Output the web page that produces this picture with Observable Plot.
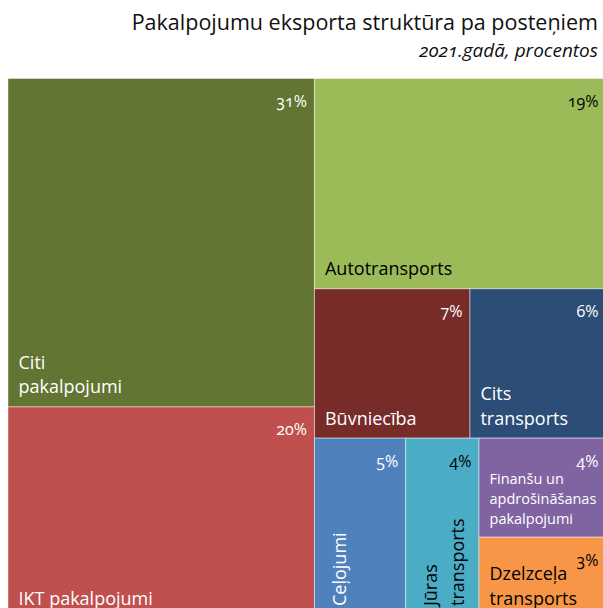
<!DOCTYPE html>
<html>
<head>
<meta charset="utf-8">
<script src="https://cdn.jsdelivr.net/npm/d3@7"></script>
<script src="https://cdn.jsdelivr.net/npm/@observablehq/plot@0.6"></script>
<style>
html, body { margin: 0; padding: 0; background: #fff; width: 603px; height: 608px; overflow: hidden; }
body { font-family: "Open Sans", sans-serif; font-variant-numeric: oldstyle-nums; }
#head { position: relative; height: 78px; }
#title { position: absolute; right: 5px; top: 11px; font-size: 21.5px; line-height: 21.5px; color: #111; white-space: nowrap; }
#subtitle { position: absolute; right: 5px; top: 41px; font-size: 19px; line-height: 19px; font-style: italic; color: #111; white-space: nowrap; }
#chart svg { display: block; overflow: hidden; }
</style>
</head>
<body>
<div id="head">
  <div id="title">Pakalpojumu eksporta struktūra pa posteņiem</div>
  <div id="subtitle">2021.gadā, procentos</div>
</div>
<div id="chart"></div>
<script>
// ---- data ----
const categories = [
  "Citi pakalpojumi", "IKT pakalpojumi", "Autotransports", "Būvniecība",
  "Cits transports", "Ceļojumi", "Jūras transports",
  "Finanšu un apdrošināšanas pakalpojumi", "Dzelzceļa transports"
];
const labelText = [
  "Citi\npakalpojumi", "IKT pakalpojumi", "Autotransports", "Būvniecība",
  "Cits\ntransports", "Ceļojumi", "Jūras\ntransports",
  "Finanšu un\napdrošināšanas\npakalpojumi", "Dzelzceļa\ntransports"
];
const values = [31.2, 20.1, 19.0, 7.2, 6.3, 5.1, 4.1, 3.9, 3.2];
// grouping of the tiles (indexes into categories)
const nesting = [[0, 1], [2, [3, 4], [5, 6, [7, 8]]]];
const palette = ["#627532", "#C0504D", "#9BBB59", "#772C2A", "#2C4D75", "#4F81BD", "#4BACC6", "#8064A2", "#F79646"];

// ---- layout ----
const X0 = 8, X1 = 606, Y0 = 0.5, Y1 = 540.5;
function build(n) { return Array.isArray(n) ? {children: n.map(build)} : {index: n}; }
const root = d3.hierarchy(build(nesting)).sum(d => d.index === undefined ? 0 : values[d.index]);
d3.treemap().tile(d3.treemapSliceDice).size([1, 1]).round(false)(root);

function luminance(hex) {
  const c = d3.rgb(hex);
  const f = v => { v /= 255; return v <= 0.03928 ? v / 12.92 : Math.pow((v + 0.055) / 1.055, 2.4); };
  return 0.2126 * f(c.r) + 0.7152 * f(c.g) + 0.0722 * f(c.b);
}

const tiles = root.leaves().map(n => {
  const i = n.data.index;
  const wpx = (n.x1 - n.x0) * (X1 - X0), hpx = (n.y1 - n.y0) * (Y1 - Y0);
  const lines = labelText[i].split("\n").length;
  return {
    category: categories[i], label: labelText[i], value: values[i],
    x1: n.x0, x2: n.x1, y1: n.y0, y2: n.y1,
    ink: luminance(palette[i]) > 0.3 ? "black" : "white",
    turned: hpx > 1.6 * wpx,
    size: lines >= 3 ? 14.5 : 18
  };
});

const textMarks = ["white", "black"].flatMap(ink => {
  const sel = tiles.filter(d => d.ink === ink);
  return [
    Plot.text(sel, {x: "x2", y: "y1", text: d => Math.round(d.value) + "%", textAnchor: "end", lineAnchor: "bottom", dx: -8, dy: 28, fontSize: 16, fill: ink}),
    Plot.text(sel.filter(d => !d.turned), {x: "x1", y: "y2", text: d => d.label, textAnchor: "start", lineAnchor: "bottom", dx: 10, dy: -14, fontSize: d => d.size, lineHeight: 1.37, fill: ink}),
    Plot.text(sel.filter(d => d.turned), {x: "x1", y: "y2", text: d => d.label, rotate: -90, textAnchor: "start", lineAnchor: "top", dx: 12, dy: -13, fontSize: d => d.size, lineHeight: 1.5, fill: ink})
  ];
});

const chart = Plot.plot({
  width: 603,
  height: 530,
  margin: 0,
  x: {domain: [0, 1], range: [X0, X1], axis: null},
  y: {domain: [0, 1], range: [Y0, Y1], axis: null},
  color: {domain: categories, range: palette},
  style: {fontFamily: "'Open Sans', sans-serif", background: "white", overflow: "hidden"},
  marks: [
    Plot.rect(tiles, {x1: "x1", x2: "x2", y1: "y1", y2: "y2", fill: "category", stroke: "white", strokeOpacity: 0.45, strokeWidth: 1}),
    ...textMarks
  ]
});
document.getElementById("chart").appendChild(chart);
</script>
</body>
</html>
